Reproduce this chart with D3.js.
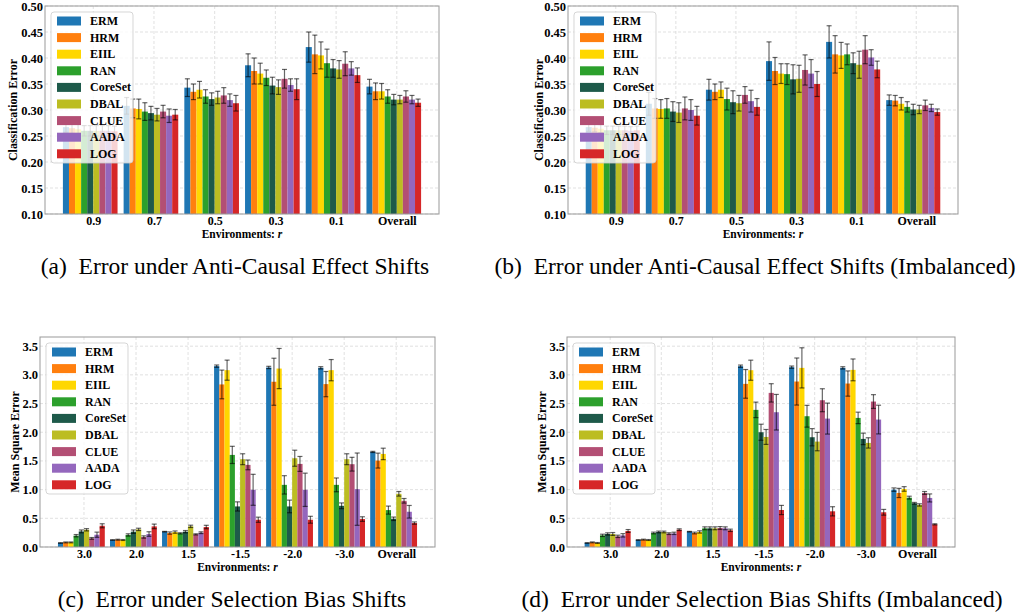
<!DOCTYPE html>
<html>
<head>
<meta charset="utf-8">
<script src="https://cdn.jsdelivr.net/npm/d3@7"></script>
<style>
body { margin: 0; background: #fff; }
text { font-family: "Liberation Serif", "Times New Roman", serif; }
.tick text { font-weight: bold; fill: #000; }
.yax .tick text { font-size: 12.5px; }
.xax .tick text { font-size: 12px; }
</style>
</head>
<body>
<svg id="fig" width="1031" height="615"></svg>
<script>
const methods = ["ERM", "HRM", "EIIL", "RAN", "CoreSet", "DBAL", "CLUE", "AADA", "LOG"];
const colors = ["#1f77b4", "#ff7f0e", "#ffd700", "#2ca02c", "#1e5a4a", "#bcbd22", "#b34f74", "#9467bd", "#d62728"];

const envAB = ["0.9", "0.7", "0.5", "0.3", "0.1", "Overall"];
const envCD = ["3.0", "2.0", "1.5", "-1.5", "-2.0", "-3.0", "Overall"];
const ticksAB = [0.10, 0.15, 0.20, 0.25, 0.30, 0.35, 0.40, 0.45, 0.50];
const ticksCD = [0.0, 0.5, 1.0, 1.5, 2.0, 2.5, 3.0, 3.5];

// (a) anti-causal effect shifts, one row per method
const meanA = [
  [0.267, 0.308, 0.343, 0.386, 0.421, 0.345],
  [0.265, 0.303, 0.335, 0.375, 0.407, 0.336],
  [0.263, 0.302, 0.339, 0.370, 0.405, 0.336],
  [0.260, 0.297, 0.326, 0.362, 0.390, 0.326],
  [0.260, 0.294, 0.321, 0.347, 0.380, 0.320],
  [0.260, 0.291, 0.324, 0.344, 0.378, 0.320],
  [0.260, 0.297, 0.328, 0.360, 0.389, 0.326],
  [0.260, 0.289, 0.319, 0.348, 0.380, 0.320],
  [0.259, 0.291, 0.313, 0.340, 0.367, 0.314]
];
const errA = [
  [0.010, 0.016, 0.017, 0.022, 0.029, 0.014],
  [0.010, 0.018, 0.015, 0.025, 0.037, 0.016],
  [0.010, 0.019, 0.016, 0.020, 0.026, 0.015],
  [0.010, 0.017, 0.013, 0.015, 0.027, 0.013],
  [0.010, 0.013, 0.012, 0.016, 0.017, 0.010],
  [0.010, 0.012, 0.012, 0.014, 0.017, 0.008],
  [0.010, 0.012, 0.015, 0.018, 0.023, 0.011],
  [0.010, 0.013, 0.012, 0.012, 0.013, 0.008],
  [0.010, 0.010, 0.015, 0.020, 0.014, 0.007]
];

// (b) anti-causal effect shifts, imbalanced
const meanB = [
  [0.267, 0.312, 0.339, 0.394, 0.431, 0.319],
  [0.266, 0.303, 0.335, 0.375, 0.407, 0.318],
  [0.264, 0.302, 0.339, 0.370, 0.405, 0.312],
  [0.261, 0.303, 0.321, 0.369, 0.407, 0.306],
  [0.261, 0.297, 0.315, 0.359, 0.390, 0.301],
  [0.261, 0.295, 0.313, 0.360, 0.387, 0.301],
  [0.261, 0.303, 0.329, 0.377, 0.416, 0.309],
  [0.260, 0.300, 0.317, 0.370, 0.401, 0.304],
  [0.261, 0.289, 0.306, 0.350, 0.378, 0.296]
];
const errB = [
  [0.008, 0.022, 0.020, 0.037, 0.031, 0.010],
  [0.008, 0.019, 0.015, 0.026, 0.036, 0.010],
  [0.008, 0.018, 0.015, 0.019, 0.025, 0.012],
  [0.008, 0.019, 0.021, 0.020, 0.020, 0.010],
  [0.008, 0.019, 0.022, 0.028, 0.020, 0.010],
  [0.008, 0.019, 0.015, 0.026, 0.026, 0.008],
  [0.008, 0.022, 0.016, 0.029, 0.027, 0.010],
  [0.008, 0.020, 0.021, 0.027, 0.015, 0.007],
  [0.008, 0.018, 0.016, 0.024, 0.016, 0.006]
];

// (c) selection bias shifts
const meanC = [
  [0.07, 0.122, 0.267, 3.152, 3.129, 3.123, 1.657],
  [0.08, 0.127, 0.243, 2.833, 2.880, 2.839, 1.506],
  [0.08, 0.122, 0.260, 3.082, 3.110, 3.082, 1.622],
  [0.197, 0.210, 0.238, 1.605, 1.083, 1.083, 0.643],
  [0.272, 0.267, 0.267, 0.707, 0.707, 0.718, 0.492],
  [0.300, 0.307, 0.360, 1.530, 1.547, 1.530, 0.927],
  [0.150, 0.174, 0.220, 1.431, 1.448, 1.443, 0.805],
  [0.214, 0.226, 0.249, 0.997, 0.997, 1.008, 0.614],
  [0.370, 0.359, 0.348, 0.475, 0.475, 0.487, 0.417]
];
const errC = [
  [0.005, 0.005, 0.005, 0.02, 0.02, 0.02, 0.01],
  [0.008, 0.008, 0.02, 0.25, 0.41, 0.22, 0.13],
  [0.008, 0.008, 0.02, 0.175, 0.35, 0.185, 0.10],
  [0.02, 0.02, 0.01, 0.15, 0.16, 0.12, 0.07],
  [0.025, 0.03, 0.02, 0.08, 0.11, 0.05, 0.03],
  [0.02, 0.02, 0.02, 0.095, 0.14, 0.095, 0.04],
  [0.015, 0.02, 0.01, 0.085, 0.13, 0.12, 0.04],
  [0.045, 0.04, 0.015, 0.27, 0.29, 0.63, 0.11],
  [0.035, 0.04, 0.03, 0.045, 0.06, 0.04, 0.02]
];

// (d) selection bias shifts, imbalanced
const meanD = [
  [0.07, 0.122, 0.267, 3.151, 3.134, 3.122, 1.000],
  [0.081, 0.128, 0.244, 2.843, 2.884, 2.849, 0.942],
  [0.07, 0.122, 0.262, 3.081, 3.122, 3.087, 1.012],
  [0.203, 0.244, 0.326, 2.390, 2.279, 2.250, 0.860],
  [0.227, 0.262, 0.326, 2.000, 1.913, 1.884, 0.762],
  [0.227, 0.262, 0.326, 1.918, 1.837, 1.814, 0.733],
  [0.186, 0.233, 0.331, 2.686, 2.558, 2.535, 0.942],
  [0.203, 0.238, 0.326, 2.349, 2.238, 2.221, 0.855],
  [0.279, 0.302, 0.291, 0.645, 0.622, 0.605, 0.395]
];
const errD = [
  [0.005, 0.005, 0.005, 0.02, 0.02, 0.02, 0.03],
  [0.008, 0.008, 0.015, 0.25, 0.41, 0.22, 0.08],
  [0.008, 0.008, 0.02, 0.175, 0.35, 0.19, 0.04],
  [0.02, 0.015, 0.025, 0.135, 0.19, 0.10, 0.025],
  [0.02, 0.015, 0.025, 0.14, 0.15, 0.10, 0.015],
  [0.025, 0.015, 0.025, 0.13, 0.16, 0.09, 0.02],
  [0.02, 0.015, 0.025, 0.16, 0.20, 0.12, 0.025],
  [0.03, 0.02, 0.025, 0.31, 0.27, 0.25, 0.07],
  [0.025, 0.015, 0.02, 0.08, 0.08, 0.05, 0.01]
];

const panels = [
  {cats: envAB, mean: meanA, err: errA, ticks: ticksAB, fmt: ".2f", yDomain: [0.10, 0.50],
   left: 45, right: 439, top: 6, bottom: 214, ylabel: "Classification Error", ylabX: -32,
   caption: "(a)\u2002Error under Anti-Causal Effect Shifts", capX: 235, capY: 274},
  {cats: envAB, mean: meanB, err: errB, ticks: ticksAB, fmt: ".2f", yDomain: [0.10, 0.50],
   left: 568, right: 958, top: 6, bottom: 214, ylabel: "Classification Error", ylabX: -29,
   caption: "(b)\u2002Error under Anti-Causal Effect Shifts (Imbalanced)", capX: 755, capY: 274},
  {cats: envCD, mean: meanC, err: errC, ticks: ticksCD, fmt: ".1f", yDomain: [0, 3.66],
   left: 40, right: 435, top: 337, bottom: 547, ylabel: "Mean Square Error", ylabX: -25,
   caption: "(c)\u2002Error under Selection Bias Shifts", capX: 232, capY: 607},
  {cats: envCD, mean: meanD, err: errD, ticks: ticksCD, fmt: ".1f", yDomain: [0, 3.66],
   left: 567, right: 955, top: 337, bottom: 547, ylabel: "Mean Square Error", ylabX: -25,
   caption: "(d)\u2002Error under Selection Bias Shifts (Imbalanced)", capX: 762, capY: 607}
];

const svg = d3.select("#fig");
const barW = 0.1;

panels.forEach((p) => {
  const n = p.cats.length;
  const lo = -5 * barW, hi = (n - 1) + 4 * barW;
  const pad = 0.05 * (hi - lo);

  const x = d3.scaleLinear().domain([lo - pad, hi + pad]).range([p.left, p.right]);
  const y = d3.scaleLinear().domain(p.yDomain).range([p.bottom, p.top]);

  const g = svg.append("g");

  // grid
  g.append("g").selectAll("line")
    .data(d3.range(n))
    .enter().append("line")
    .attr("x1", d => x(d)).attr("x2", d => x(d))
    .attr("y1", p.top).attr("y2", p.bottom)
    .attr("stroke", "#d9d9d9").attr("stroke-width", 0.8).attr("stroke-dasharray", "3,2");
  g.append("g").selectAll("line")
    .data(p.ticks)
    .enter().append("line")
    .attr("x1", p.left).attr("x2", p.right)
    .attr("y1", d => y(d)).attr("y2", d => y(d))
    .attr("stroke", "#d9d9d9").attr("stroke-width", 0.8).attr("stroke-dasharray", "3,2");

  // bars + error bars
  const bw = x(barW) - x(0);
  methods.forEach((m, j) => {
    const sg = g.append("g");
    sg.selectAll("rect")
      .data(p.mean[j])
      .enter().append("rect")
      .attr("x", (d, i) => x(i + (j - 5) * barW))
      .attr("width", bw)
      .attr("y", d => y(d))
      .attr("height", d => p.bottom - y(d))
      .attr("fill", colors[j]);

    const eb = sg.selectAll("g.eb")
      .data(p.mean[j])
      .enter().append("g")
      .attr("class", "eb")
      .attr("stroke", "#000").attr("stroke-opacity", 0.6).attr("stroke-width", 1.2);
    const cx = i => x(i + (j - 4.5) * barW);
    eb.append("line")
      .attr("x1", (d, i) => cx(i)).attr("x2", (d, i) => cx(i))
      .attr("y1", (d, i) => y(d - p.err[j][i])).attr("y2", (d, i) => y(d + p.err[j][i]));
    eb.append("line")
      .attr("x1", (d, i) => cx(i) - 2.5).attr("x2", (d, i) => cx(i) + 2.5)
      .attr("y1", (d, i) => y(d + p.err[j][i])).attr("y2", (d, i) => y(d + p.err[j][i]));
    eb.append("line")
      .attr("x1", (d, i) => cx(i) - 2.5).attr("x2", (d, i) => cx(i) + 2.5)
      .attr("y1", (d, i) => y(d - p.err[j][i])).attr("y2", (d, i) => y(d - p.err[j][i]));
  });

  // axes
  const yAxis = d3.axisLeft(y).tickValues(p.ticks).tickFormat(d3.format(p.fmt))
    .tickSize(0).tickPadding(2);
  const xAxis = d3.axisBottom(x).tickValues(d3.range(n)).tickFormat(i => p.cats[i])
    .tickSize(0).tickPadding(2.5);

  const ya = g.append("g").attr("class", "yax").attr("transform", "translate(" + p.left + ",0)").call(yAxis);
  const xa = g.append("g").attr("class", "xax").attr("transform", "translate(0," + p.bottom + ")").call(xAxis);
  [ya, xa].forEach(a => a.select(".domain").remove());

  // frame
  g.append("rect")
    .attr("x", p.left).attr("y", p.top)
    .attr("width", p.right - p.left).attr("height", p.bottom - p.top)
    .attr("fill", "none").attr("stroke", "#999").attr("stroke-width", 1);

  // axis titles
  g.append("text")
    .attr("transform", "translate(" + (p.left + p.ylabX) + "," + ((p.top + p.bottom) / 2) + ") rotate(-90)")
    .attr("text-anchor", "middle").attr("dy", "0.35em")
    .attr("font-size", 12).attr("font-weight", "bold")
    .text(p.ylabel);

  const xt = g.append("text")
    .attr("x", (p.left + p.right) / 2).attr("y", p.bottom + 24)
    .attr("text-anchor", "middle")
    .attr("font-size", 11.5).attr("font-weight", "bold");
  xt.append("tspan").text("Environments: ");
  xt.append("tspan").attr("font-style", "italic").text("r");

  // legend
  const lg = g.append("g").attr("transform", "translate(" + (p.left + 6) + "," + (p.top + 6) + ")");
  lg.append("rect")
    .attr("width", 82).attr("height", 151).attr("rx", 3)
    .attr("fill", "#fff").attr("fill-opacity", 0.8)
    .attr("stroke", "#ccc").attr("stroke-opacity", 0.8);
  const rows = lg.selectAll("g.row")
    .data(methods)
    .enter().append("g")
    .attr("class", "row")
    .attr("transform", (d, k) => "translate(0," + (9 + k * 16.6) + ")");
  rows.append("rect")
    .attr("x", 6).attr("y", -4.5).attr("width", 24).attr("height", 9)
    .attr("fill", (d, k) => colors[k]);
  rows.append("text")
    .attr("x", 39).attr("y", 4)
    .attr("font-size", 12).attr("font-weight", "bold")
    .text(d => d);

  // caption
  svg.append("text")
    .attr("x", p.capX).attr("y", p.capY)
    .attr("text-anchor", "middle")
    .attr("font-size", 23.5)
    .text(p.caption);
});
</script>
</body>
</html>
